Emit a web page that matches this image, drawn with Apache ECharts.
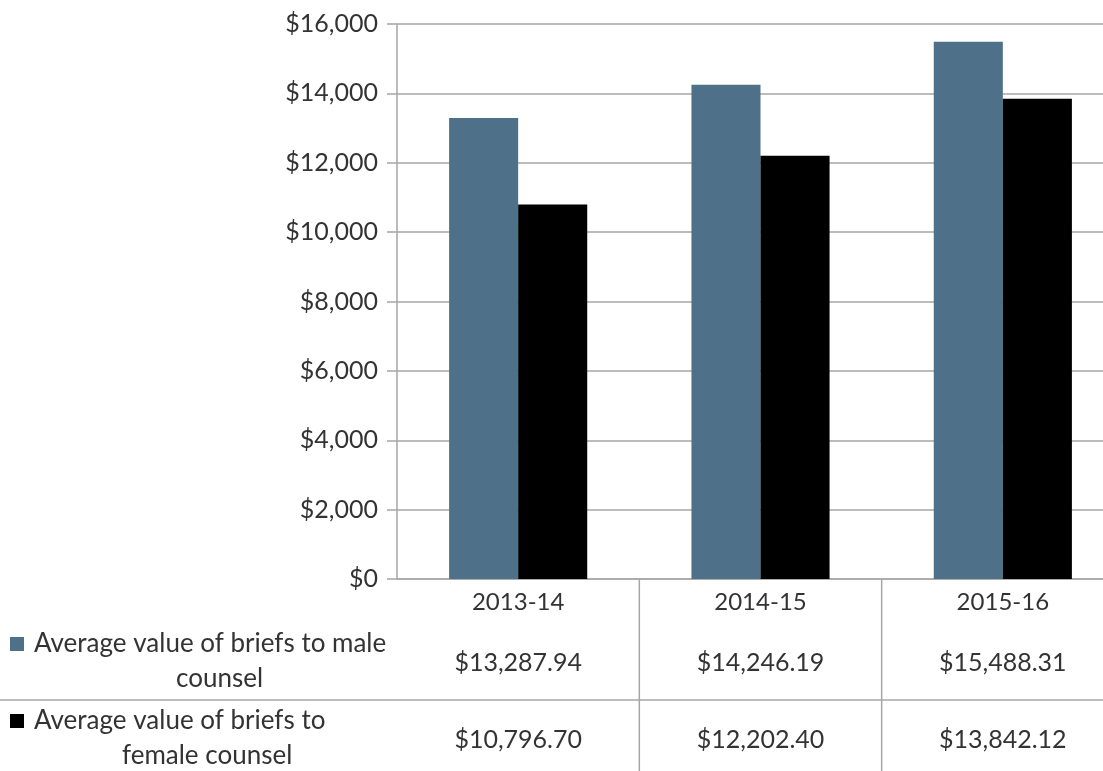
<!DOCTYPE html>
<html><head><meta charset="utf-8">
<script src="https://cdn.jsdelivr.net/npm/echarts@6/dist/echarts.min.js"></script>
<style>html,body{margin:0;padding:0;background:#fff;overflow:hidden}#c{width:1124px;height:771px}</style>
</head><body><div id="c"></div>
<script>
const categories = ['2013-14', '2014-15', '2015-16'];
const seriesNames = ['Average value of briefs to male counsel', 'Average value of briefs to female counsel'];
const seriesLines = [['Average value of briefs to male', 'counsel'], ['Average value of briefs to', 'female counsel']];
const maleValues = [13287.94, 14246.19, 15488.31];
const femaleValues = [10796.70, 12202.40, 13842.12];
const colors = ['#4e7189', '#000000'];
const FONT = 'Lato';
const TXT = '#333333';
const FS = 24;
const fmtAxis = v => '$' + v.toLocaleString('en-US');
const fmtVal = v => '$' + v.toLocaleString('en-US', {minimumFractionDigits: 2, maximumFractionDigits: 2});

const chart = echarts.init(document.getElementById('c'));
chart.setOption({
  animation: false,
  grid: {left: 397, top: 24, right: 0, bottom: 192, containLabel: false},
  xAxis: {
    type: 'category', data: categories,
    axisLine: {lineStyle: {color: '#a6a6a6', width: 1.5}},
    axisTick: {show: false},
    axisLabel: {color: TXT, fontFamily: FONT, fontSize: FS, margin: 11}
  },
  yAxis: {
    type: 'value', min: 0, max: 16000, interval: 2000,
    axisLine: {show: true, lineStyle: {color: '#a6a6a6', width: 1.5}},
    axisTick: {show: true, length: 10, lineStyle: {color: '#a6a6a6', width: 1.5}},
    splitLine: {lineStyle: {color: '#a6a6a6', width: 1.5}},
    axisLabel: {color: TXT, fontFamily: FONT, fontSize: 25, margin: 19, formatter: fmtAxis}
  },
  series: [
    {name: seriesNames[0], type: 'bar', data: maleValues, itemStyle: {color: colors[0]}, barGap: '0%', barCategoryGap: '43%'},
    {name: seriesNames[1], type: 'bar', data: femaleValues, itemStyle: {color: colors[1]}, barGap: '0%', barCategoryGap: '43%'}
  ]
});

// data table built from the arrays
const g = [];
const lineStyle = {stroke: '#a6a6a6', lineWidth: 1.5};
const y0 = chart.convertToPixel({yAxisIndex: 0}, 0);
const xs = categories.map(c => chart.convertToPixel({xAxisIndex: 0}, c));
for (let i = 1; i < categories.length; i++) {
  const bx = (xs[i - 1] + xs[i]) / 2;
  g.push({type: 'line', shape: {x1: bx, y1: y0, x2: bx, y2: 771}, style: lineStyle, silent: true});
}
g.push({type: 'line', shape: {x1: 0, y1: 700, x2: 1124, y2: 700}, style: lineStyle, silent: true});
const rowVals = [maleValues, femaleValues];
const rowY = [663, 740];
rowVals.forEach((vals, r) => {
  vals.forEach((v, i) => {
    g.push({type: 'text', x: xs[i], y: rowY[r], style: {text: fmtVal(v), fill: TXT, font: '25px ' + FONT, textAlign: 'center', textVerticalAlign: 'middle'}, silent: true});
  });
});
// legend keys in table
const lineLeft = [[34, 176], [34, 122]];
const lineY = [[644, 679], [721, 756]];
seriesLines.forEach((lines, r) => {
  g.push({type: 'rect', shape: {x: 10, y: lineY[r][0] - 7, width: 14, height: 14}, style: {fill: colors[r]}, silent: true});
  lines.forEach((t, k) => {
    g.push({type: 'text', x: lineLeft[r][k], y: lineY[r][k], style: {text: t, fill: TXT, font: '26px ' + FONT, textAlign: 'left', textVerticalAlign: 'middle'}, silent: true});
  });
});
chart.setOption({graphic: g});
</script></body></html>
